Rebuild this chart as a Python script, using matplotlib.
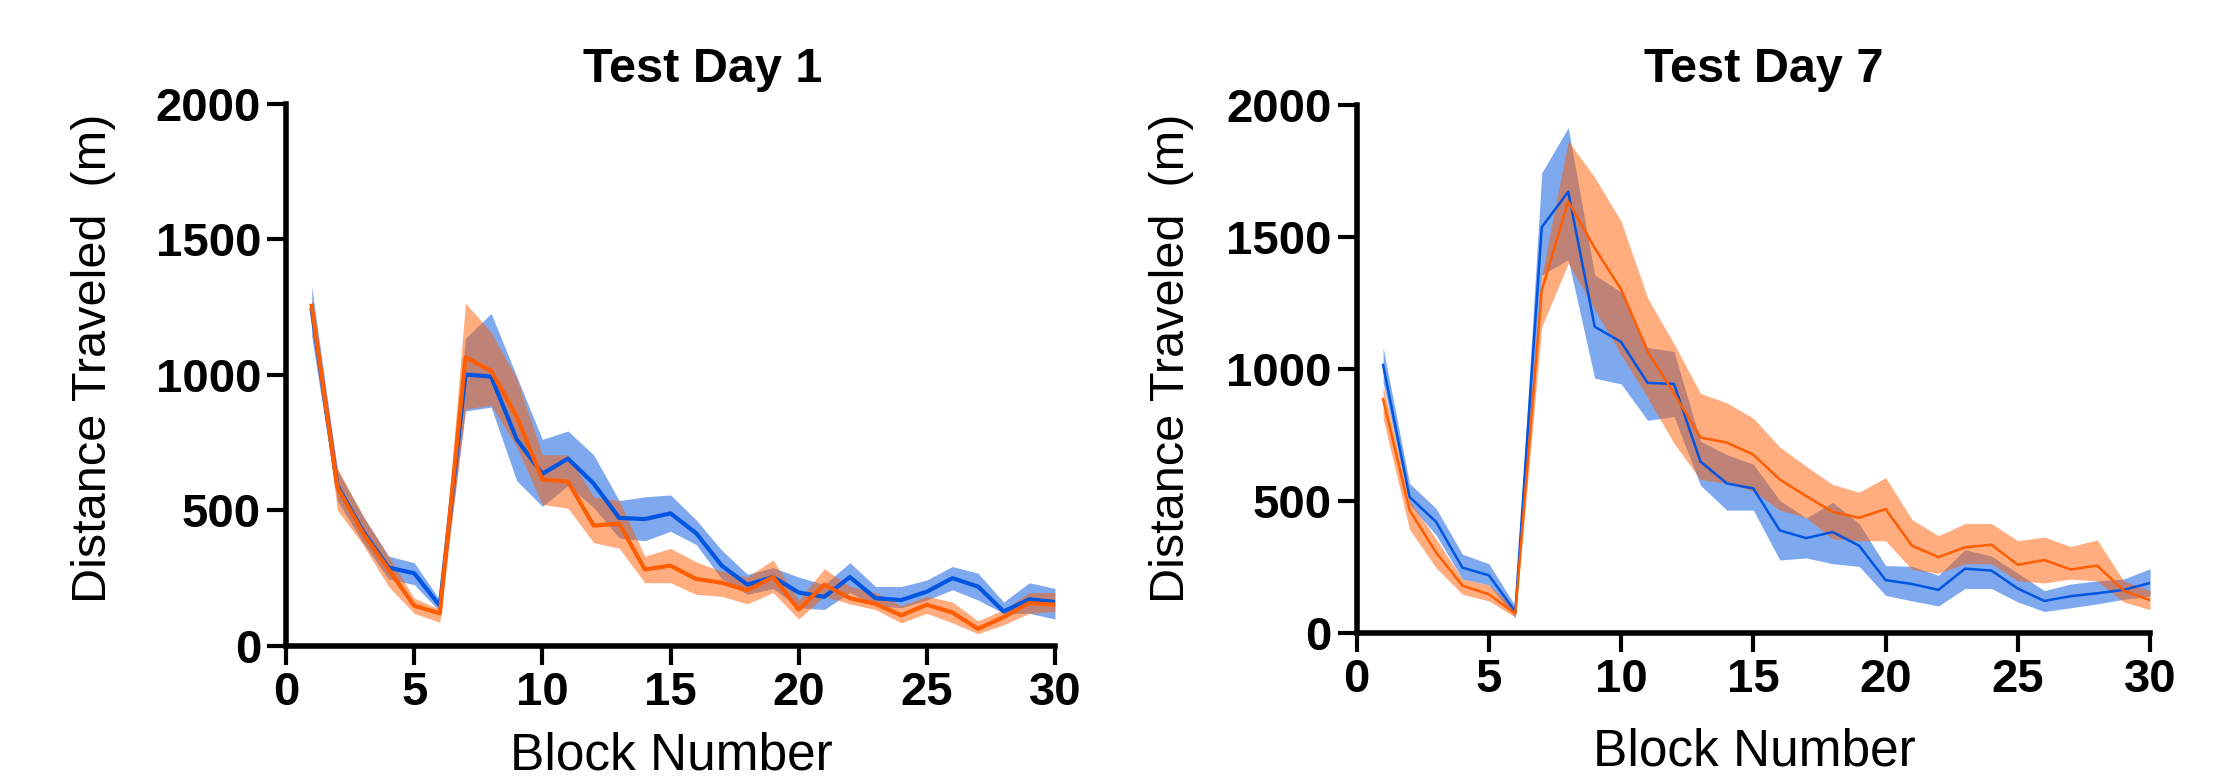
import matplotlib as mpl
import matplotlib.pyplot as plt
import numpy as np

mpl.rcParams.update({
    "font.family": ["Liberation Sans", "DejaVu Sans"],
})

# ---- data ----
blocks = np.arange(1, 31)

# Test Day 1
d1_blue = [1240, 592, 423, 289, 268, 148, 1001, 994, 762, 635, 691, 599, 472, 468, 489,
           416, 296, 226, 254, 197, 181, 254, 176, 169, 200, 250, 219, 127, 172, 162]
d1_blue_lo = [1142, 536, 381, 247, 226, 127, 867, 881, 609, 515, 592, 511, 398, 388, 423,
              374, 247, 190, 212, 141, 134, 197, 148, 141, 169, 207, 169, 120, 120, 99]
d1_blue_hi = [1326, 649, 480, 331, 307, 169, 1135, 1227, 994, 762, 793, 705, 536, 550, 557,
              465, 353, 264, 289, 254, 226, 307, 219, 219, 243, 293, 268, 162, 233, 212]
d1_orange = [1255, 585, 416, 282, 148, 120, 1065, 1015, 846, 614, 606, 444, 451, 282, 296,
             247, 233, 205, 254, 134, 226, 176, 155, 113, 152, 123, 63, 106, 158, 152]
d1_orange_lo = [1235, 501, 374, 219, 120, 87, 874, 889, 733, 522, 508, 381, 360, 233, 233,
                190, 183, 155, 197, 99, 183, 155, 134, 85, 120, 85, 45, 78, 120, 127]
d1_orange_hi = [1275, 656, 480, 331, 176, 134, 1265, 1157, 987, 705, 705, 550, 536, 331, 360,
                310, 275, 254, 317, 169, 285, 219, 197, 148, 183, 162, 92, 134, 197, 197]

# Test Day 7
d7_blue = [1014, 514, 420, 246, 217, 80, 1536, 1670, 1159, 1101, 946, 942, 648, 565, 546,
           387, 358, 381, 329, 199, 184, 162, 242, 235, 167, 120, 138, 149, 162, 188]
d7_blue_lo = [949, 486, 370, 203, 181, 58, 1355, 1413, 964, 942, 804, 819, 558, 464, 464,
              275, 283, 261, 251, 141, 120, 101, 167, 167, 116, 80, 94, 109, 126, 138]
d7_blue_hi = [1080, 565, 471, 297, 261, 101, 1742, 1913, 1355, 1290, 1080, 1065, 725, 674, 638,
              500, 435, 493, 413, 254, 251, 217, 314, 290, 225, 159, 184, 196, 203, 242]
d7_orange = [884, 464, 304, 178, 145, 72, 1297, 1633, 1457, 1300, 1065, 906, 739, 720, 674,
             580, 517, 457, 435, 468, 329, 286, 323, 333, 257, 275, 239, 254, 159, 123]
d7_orange_lo = [812, 391, 246, 145, 120, 58, 1159, 1399, 1225, 1051, 891, 717, 580, 565, 536,
                464, 435, 355, 348, 348, 239, 225, 261, 261, 196, 188, 203, 196, 116, 87]
d7_orange_hi = [935, 500, 355, 203, 181, 87, 1355, 1862, 1725, 1558, 1268, 1094, 906, 870, 812,
                703, 630, 561, 532, 587, 428, 367, 413, 413, 348, 362, 326, 351, 196, 159]

xticks = [0, 5, 10, 15, 20, 25, 30]
yticks = [0, 500, 1000, 1500, 2000]

blue = "#0155e1"
orange = "#ff5d01"

fig = plt.figure(figsize=(22.35, 7.81), dpi=100)


def draw_panel(ax, b, b_lo, b_hi, o, o_lo, o_hi, lw):
    ax.fill_between(blocks, b_lo, b_hi, color=blue, alpha=0.5, linewidth=0)
    ax.plot(blocks, b, color=blue, lw=lw)
    ax.fill_between(blocks, o_lo, o_hi, color=orange, alpha=0.5, linewidth=0)
    ax.plot(blocks, o, color=orange, lw=lw)
    ax.set_xlim(0, 30)
    ax.set_ylim(0, 2000)
    ax.set_xticks(xticks, [str(t) for t in xticks], fontweight="bold", fontsize=34)
    ax.set_yticks(yticks, [str(t) for t in yticks], fontweight="bold", fontsize=34)
    for s in ["top", "right"]:
        ax.spines[s].set_visible(False)
    for s in ["left", "bottom"]:
        ax.spines[s].set_linewidth(4)
    ax.tick_params(width=3, length=14, pad=4)


ax1 = fig.add_axes([0.128, 0.173, 0.344, 0.694])
draw_panel(ax1, d1_blue, d1_blue_lo, d1_blue_hi, d1_orange, d1_orange_lo, d1_orange_hi, 3.0)
ax2 = fig.add_axes([0.607, 0.190, 0.355, 0.676])
draw_panel(ax2, d7_blue, d7_blue_lo, d7_blue_hi, d7_orange, d7_orange_lo, d7_orange_hi, 1.8)

# titles and axis labels
fig.text(703 / 2235, 1 - 82 / 781, "Test Day 1", ha="center", va="baseline",
         fontsize=35, fontweight="bold")
fig.text(1764 / 2235, 1 - 82 / 781, "Test Day 7", ha="center", va="baseline",
         fontsize=35, fontweight="bold")
for xc in [94, 1172]:
    fig.text(xc / 2235, 1 - 358 / 781, "Distance Traveled  (m)", rotation=90,
             ha="center", va="center", fontsize=35)
for xc, yb in [(671, 770), (1754, 765)]:
    fig.text(xc / 2235, 1 - yb / 781, "Block Number", ha="center", va="baseline",
             fontsize=37)

fig.savefig("out.png", dpi=100)
